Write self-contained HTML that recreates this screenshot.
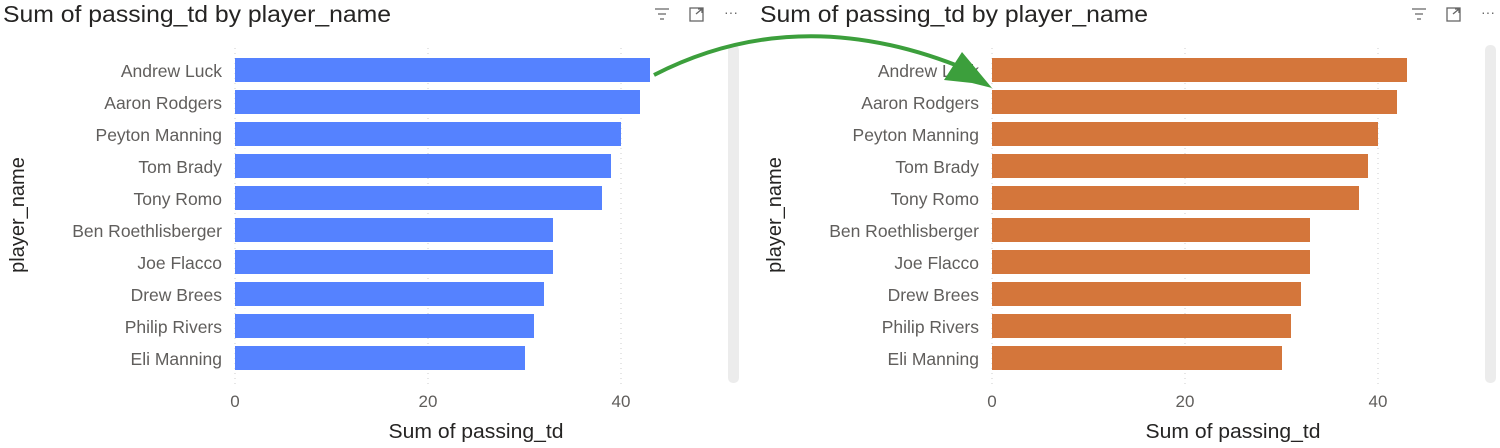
<!DOCTYPE html><html><head><style>
body{margin:0;width:1500px;height:443px;background:#fff;overflow:hidden;font-family:"Liberation Sans",sans-serif}
</style></head><body>
<svg width="1500" height="443" xmlns="http://www.w3.org/2000/svg" font-family="Liberation Sans, sans-serif">
<rect x="0" y="0" width="1500" height="443" fill="#fff"/>
<g id="c1">
<text x="3" y="22" font-size="23" fill="#252423" textLength="388" lengthAdjust="spacingAndGlyphs">Sum of passing_td by player_name</text>
<g stroke="#666" stroke-width="1.3" fill="none">
<path d="M655 9h14M658 14h8M660 19h4"/>
<rect x="690" y="8" width="13" height="13"/><path d="M696 14l6-5M698 9h4v4"/>
</g>
<text x="731" y="17" font-size="14" fill="#666" text-anchor="middle">···</text>
<g stroke="#ccc" stroke-dasharray="1,4"><path d="M235 48V385M428 48V385M621 48V385"/></g>
<rect x="728" y="45" width="11" height="338" rx="5" fill="#ececec"/>
<g fill="#5582ff">
<rect x="235" y="58" width="415" height="24"/><rect x="235" y="90" width="405" height="24"/>
<rect x="235" y="122" width="386" height="24"/><rect x="235" y="154" width="376" height="24"/>
<rect x="235" y="186" width="367" height="24"/><rect x="235" y="218" width="318" height="24"/>
<rect x="235" y="250" width="318" height="24"/><rect x="235" y="282" width="309" height="24"/>
<rect x="235" y="314" width="299" height="24"/><rect x="235" y="346" width="290" height="24"/>
</g>
<g font-size="17.5" fill="#605e5c" text-anchor="end">
<text x="222" y="77">Andrew Luck</text><text x="222" y="109">Aaron Rodgers</text><text x="222" y="141">Peyton Manning</text><text x="222" y="173">Tom Brady</text><text x="222" y="205">Tony Romo</text><text x="222" y="237">Ben Roethlisberger</text><text x="222" y="269">Joe Flacco</text><text x="222" y="301">Drew Brees</text><text x="222" y="333">Philip Rivers</text><text x="222" y="365">Eli Manning</text>
</g>
<g font-size="17" fill="#605e5c" text-anchor="middle"><text x="235" y="407">0</text><text x="428" y="407">20</text><text x="621" y="407">40</text></g>
<text x="476" y="438" font-size="20" fill="#252423" text-anchor="middle" textLength="175" lengthAdjust="spacingAndGlyphs">Sum of passing_td</text>
<text transform="translate(24,215) rotate(-90)" font-size="20" fill="#252423" text-anchor="middle">player_name</text>
</g>
<g transform="translate(757,0)">
<text x="3" y="22" font-size="23" fill="#252423" textLength="388" lengthAdjust="spacingAndGlyphs">Sum of passing_td by player_name</text>
<g stroke="#666" stroke-width="1.3" fill="none">
<path d="M655 9h14M658 14h8M660 19h4"/>
<rect x="690" y="8" width="13" height="13"/><path d="M696 14l6-5M698 9h4v4"/>
</g>
<text x="731" y="17" font-size="14" fill="#666" text-anchor="middle">···</text>
<g stroke="#ccc" stroke-dasharray="1,4"><path d="M235 48V385M428 48V385M621 48V385"/></g>
<rect x="728" y="45" width="11" height="338" rx="5" fill="#ececec"/>
<g fill="#d4763b">
<rect x="235" y="58" width="415" height="24"/><rect x="235" y="90" width="405" height="24"/>
<rect x="235" y="122" width="386" height="24"/><rect x="235" y="154" width="376" height="24"/>
<rect x="235" y="186" width="367" height="24"/><rect x="235" y="218" width="318" height="24"/>
<rect x="235" y="250" width="318" height="24"/><rect x="235" y="282" width="309" height="24"/>
<rect x="235" y="314" width="299" height="24"/><rect x="235" y="346" width="290" height="24"/>
</g>
<g font-size="17.5" fill="#605e5c" text-anchor="end">
<text x="222" y="77">Andrew Luck</text><text x="222" y="109">Aaron Rodgers</text><text x="222" y="141">Peyton Manning</text><text x="222" y="173">Tom Brady</text><text x="222" y="205">Tony Romo</text><text x="222" y="237">Ben Roethlisberger</text><text x="222" y="269">Joe Flacco</text><text x="222" y="301">Drew Brees</text><text x="222" y="333">Philip Rivers</text><text x="222" y="365">Eli Manning</text>
</g>
<g font-size="17" fill="#605e5c" text-anchor="middle"><text x="235" y="407">0</text><text x="428" y="407">20</text><text x="621" y="407">40</text></g>
<text x="476" y="438" font-size="20" fill="#252423" text-anchor="middle" textLength="175" lengthAdjust="spacingAndGlyphs">Sum of passing_td</text>
<text transform="translate(24,215) rotate(-90)" font-size="20" fill="#252423" text-anchor="middle">player_name</text>
</g>
<path d="M654 75 Q800 0 968 70" stroke="#3c9f3c" stroke-width="4" fill="none"/>
<polygon points="962,52 992,88 972,83 944,80" fill="#3c9f3c"/>
</svg>
</body></html>
